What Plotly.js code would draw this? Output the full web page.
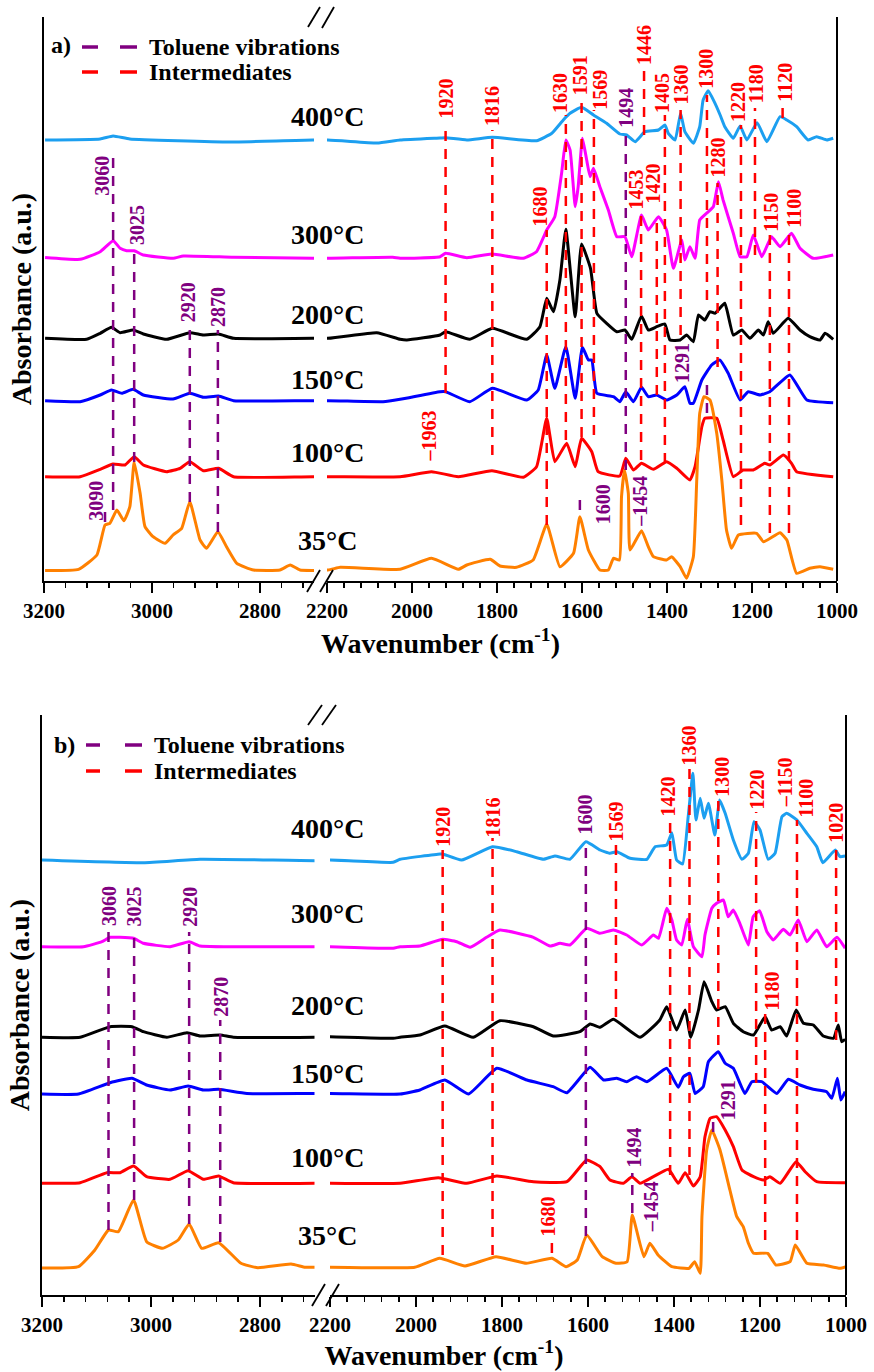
<!DOCTYPE html>
<html>
<head>
<meta charset="utf-8">
<script src="https://cdn.plot.ly/plotly-3.0.1.min.js"></script>
<style>html,body{margin:0;padding:0;background:#fff;}#chart{width:874px;height:1372px;}</style>
</head>
<body>
<div id="chart"></div>
<script>
// ---------------- DATA ----------------
const temps = ['400°C', '300°C', '200°C', '150°C', '100°C', '35°C'];
const seriesColors = ['#1c9ff0', '#ff00ff', '#000000', '#0000ff', '#ff0000', '#ff8000'];

// Panel a) spectra (wavenumber, absorbance above baseline, a.u.)
const a400Wn = [3198,3096,3072,3041,2856,2702,2198,2082,2028,1934,1921,1871,1811,1707,1671,1644,1628,1601,1573,1542,1511,1495,1475,1452,1420,1405,1397,1381,1368,1358,1338,1323,1315,1303,1287,1275,1264,1244,1228,1212,1188,1165,1134,1118,1095,1068,1048,1024,1009];
const a400Abs = [0,0.01,0.04,0.01,-0.02,0,0,-0.03,0,0.02,0.023,0,0.027,-0.007,0.067,0.20,0.267,0.327,0.25,0.167,0.06,0.05,-0.017,0.083,0.10,0.15,0.067,0,0.267,0.083,-0.033,0.133,0.40,0.493,0.367,0.25,0.133,0.017,0.14,0,0.173,-0.017,0.233,0.20,0.133,0,0.033,0,0.017];
const a300Wn = [3198,3133,3096,3072,3059,3047,3033,3016,2961,2942,2849,2702,2198,2045,2028,1934,1921,1871,1812,1738,1707,1683,1664,1648,1638,1628,1616,1609,1599,1589,1581,1573,1558,1538,1518,1499,1483,1460,1444,1420,1401,1385,1365,1358,1346,1334,1323,1307,1291,1279,1268,1244,1228,1212,1197,1177,1154,1134,1107,1087,1056,1009];
const a300Abs = [0,-0.018,0.058,0.168,0.092,0.068,0.068,0.025,-0.008,0.015,0.002,-0.008,-0.008,0.002,-0.008,0.008,0.042,-0.002,0.035,-0.008,0.058,0.275,0.408,0.842,1.175,1.075,0.508,0.708,1.192,0.975,0.808,0.892,0.708,0.475,0.208,0.208,0.008,0.425,0.275,0.408,0.275,-0.108,0.175,-0.025,0.108,-0.008,0.375,0.442,0.508,0.758,0.575,0.242,0.008,0.008,0.225,0.008,0.208,0.108,0.242,0.092,-0.008,0.025];
const a200Wn = [3198,3121,3096,3075,3059,3035,3016,2973,2930,2905,2877,2849,2702,2198,2083,2028,2012,1934,1921,1864,1811,1730,1699,1683,1667,1652,1638,1616,1601,1580,1565,1542,1518,1499,1483,1460,1444,1424,1405,1393,1369,1354,1338,1326,1311,1299,1287,1264,1244,1224,1205,1185,1173,1162,1150,1115,1087,1064,1040,1028,1009];
const a200Abs = [-0.003,-0.013,0.047,0.107,0.053,0.08,0.04,-0.013,0.053,0.03,0.04,-0.003,-0.003,-0.003,0.053,-0.013,-0.02,0.03,0.063,-0.013,0.097,-0.013,0.113,0.397,0.263,0.58,1.087,0.213,0.94,0.697,0.247,0.147,0.063,0.08,-0.013,0.22,0.08,0.113,0.14,-0.02,-0.02,0.03,-0.037,0.23,0.18,0.263,0.247,0.347,0.03,0.08,-0.003,0.08,0.03,0.163,0.047,0.197,0.08,0.013,-0.02,0.047,-0.013];
const a150Wn = [3198,3133,3096,3075,3056,3035,3016,2961,2930,2905,2877,2849,2701,2198,2068,2028,1934,1921,1864,1811,1730,1703,1683,1664,1638,1616,1599,1585,1577,1565,1526,1511,1497,1479,1460,1444,1424,1401,1377,1358,1346,1338,1318,1295,1276,1256,1228,1209,1181,1158,1111,1071,1009];
const a150Abs = [-0.002,-0.012,0.055,0.105,0.072,0.112,0.055,0.015,0.072,0.032,0.045,-0.002,-0.002,-0.002,-0.012,0.012,0.088,0.088,-0.012,0.122,0.005,0.105,0.455,0.122,0.538,0.022,0.532,0.405,0.405,0.072,0.038,-0.012,0.088,-0.012,0.132,0.038,0.055,0.005,0.055,0.138,-0.028,-0.028,0.205,0.355,0.405,0.272,0.005,0.088,0.055,0.088,0.255,0.005,-0.022];
const a100Wn = [3198,3133,3096,3072,3050,3033,3016,2973,2948,2930,2905,2877,2849,2701,2198,2028,1954,1891,1812,1738,1707,1683,1664,1636,1616,1601,1577,1562,1511,1497,1479,1460,1432,1401,1377,1346,1334,1318,1311,1283,1268,1244,1221,1197,1170,1158,1126,1107,1095,1009];
const a100Abs = [0,0,0.074,0.127,0.117,0.20,0.117,0.05,0.084,0.15,0.06,0.084,0,0,0,0,0.05,0,0.06,-0.006,0.10,0.584,0.15,0.334,0.10,0.384,0.25,0.05,0.007,0.184,0.067,0.134,0.074,0.15,0.084,-0.033,0.10,0.50,0.584,0.584,0.367,0,0.067,0.067,0.134,0.117,0.217,0.134,0.05,0];
const a35Wn = [3198,3136,3102,3087,3078,3065,3052,3041,3033,3022,3013,2998,2976,2961,2945,2930,2911,2899,2878,2862,2843,2812,2763,2744,2726,2701,2198,2169,2028,1954,1891,1871,1816,1793,1754,1715,1683,1652,1620,1605,1585,1558,1538,1526,1512,1507,1500,1491,1487,1460,1444,1432,1401,1389,1369,1354,1338,1330,1323,1313,1299,1283,1271,1260,1248,1232,1189,1173,1134,1118,1095,1064,1040,1009];
const a35Abs = [0,0.012,0.155,0.455,0.472,0.605,0.498,0.638,1.085,0.772,0.438,0.338,0.272,0.355,0.422,0.688,0.305,0.222,0.388,0.238,0.072,0.005,0.005,0.055,0.005,0,0.005,0.032,0.012,0.122,0.012,0.055,0.112,0.045,0.032,0.105,0.462,0.038,0.172,0.538,0.205,0.005,0.005,0.122,0.105,0.738,1.005,0.772,0.205,0.398,0.238,0.138,0.105,0.138,0.038,-0.078,0.138,0.905,1.572,1.738,1.705,1.372,0.905,0.405,0.222,0.355,0.372,0.288,0.378,0.305,-0.028,0.022,0.038,0.012];
const aOffsets = [4.41, 3.235, 2.43, 1.805, 1.043, 0.105];
const aTempLabelY = [4.64, 3.46, 2.66, 2.01, 1.28, 0.41];

// Panel b) spectra
const b400Wn = [3200,3014,2910,2697,2200,2053,2037,1944,1938,1894,1822,1766,1704,1677,1642,1605,1572,1549,1533,1502,1463,1444,1417,1405,1394,1380,1367,1356,1349,1339,1330,1320,1305,1294,1281,1262,1242,1227,1214,1200,1181,1165,1149,1138,1114,1091,1068,1054,1025,1014,1002];
const b400Abs = [0,-0.027,0.007,-0.007,0,-0.023,0.007,0.06,0.06,0,0.133,0.083,0.007,0.04,0.007,0.183,0.10,0.067,0.083,0.017,0.007,0.133,0.15,0.273,0,-0.04,0.433,0.867,0.40,0.617,0.417,0.567,0.25,0.60,0.467,0.20,0.007,0.067,0.383,0.30,0.007,0.067,0.433,0.467,0.40,0.267,0.133,-0.027,0.10,0.033,0.04];
const b300Wn = [3200,3124,3090,3075,3057,3032,3014,2965,2930,2910,2697,2200,2053,2037,1991,1938,1905,1874,1836,1805,1727,1688,1665,1642,1603,1572,1541,1510,1475,1448,1436,1417,1405,1394,1382,1369,1355,1335,1328,1312,1301,1285,1274,1262,1247,1227,1216,1201,1184,1169,1146,1130,1111,1091,1068,1045,1021,1002];
const b300Abs = [0,0,0.05,0.094,0.094,0.084,0.034,0,0.05,0.007,0,0,-0.016,0,0.007,0.074,0.05,-0.006,0.094,0.167,0.094,0.007,0.034,0.017,0.184,0.134,0.167,0.117,0.017,0.117,0.084,0.384,0.267,0.067,0.017,0.274,0,-0.10,0.117,0.384,0.434,0.467,0.30,0.367,0.234,0.017,0.30,0.36,0.15,0.067,0.174,0.117,0.267,0.05,0.167,0,0.094,-0.016];
const b200Wn = [3200,3130,3075,3035,3014,2971,2934,2910,2873,2849,2697,2200,2053,2037,1991,1933,1867,1805,1727,1681,1619,1595,1572,1541,1479,1433,1417,1394,1374,1361,1343,1330,1312,1301,1281,1262,1239,1215,1188,1173,1153,1138,1116,1099,1076,1053,1029,1018,1010,1002];
const b200Abs = [-0.006,-0.006,0.10,0.10,0.05,-0.006,0.04,0.007,0.017,-0.006,-0.006,0,-0.016,-0.006,0.017,0.107,-0.006,0.16,0.10,0.007,0.05,0.127,0.094,0.174,-0.006,0.167,0.30,0.067,0.267,-0.006,0.267,0.55,0.35,0.267,0.30,0.134,0.05,0.017,0.20,0.067,0.10,0.007,0.267,0.134,0.117,0.007,-0.016,0.117,-0.05,-0.026];
const b150Wn = [3200,3133,3075,3035,3008,2965,2932,2904,2876,2824,2697,2200,2037,1991,1933,1878,1812,1742,1681,1649,1595,1564,1533,1510,1487,1463,1417,1390,1378,1363,1351,1332,1320,1297,1281,1262,1235,1219,1196,1161,1134,1107,1076,1045,1033,1020,1012,1002];
const b150Abs = [-0.005,-0.005,0.108,0.152,0.085,0.035,0.075,0.035,0.042,0,0,0,-0.005,0.035,0.135,-0.005,0.252,0.135,0.068,0.008,0.262,0.135,0.152,0.118,0.168,0.118,0.252,0.062,0.168,0.202,0,0.068,0.318,0.418,0.302,0.252,0,0.118,0.118,0,0.142,0.085,0.042,0.018,-0.048,0.152,-0.065,0.018];
const b100Wn = [3200,3130,3081,3057,3032,3008,2965,2932,2904,2876,2849,2697,2200,2037,1948,1882,1812,1727,1649,1603,1572,1549,1518,1498,1479,1448,1413,1390,1374,1355,1339,1328,1316,1301,1281,1262,1242,1215,1192,1177,1153,1116,1095,1068,1002];
const b100Abs = [0,0.006,0.106,0.106,0.173,0.066,0.04,0.126,0.04,0.073,0.006,0,0,0,0.056,0,0.073,0.016,0.016,0.233,0.166,0.033,0,0.066,0,0.066,0.14,0,0.106,-0.027,0.066,0.466,0.65,0.666,0.533,0.366,0.133,0.066,0.033,0.066,0,0.216,0.116,0.016,0.006];
const b35Wn = [3200,3133,3103,3078,3060,3032,3008,2979,2950,2930,2907,2876,2835,2804,2743,2717,2696,2200,2003,1945,1886,1814,1743,1684,1651,1625,1603,1567,1535,1509,1497,1470,1456,1437,1405,1365,1352,1339,1335,1324,1312,1293,1270,1254,1239,1227,1215,1182,1163,1130,1118,1091,1052,1014,1000];
const b35Abs = [0,0.013,0.18,0.38,0.363,0.68,0.263,0.197,0.28,0.44,0.197,0.253,0.047,0.003,0.04,0.007,0.007,0.007,0.007,0.097,0.02,0.113,0.047,0.097,0.013,0.08,0.33,0.113,0.047,0.063,0.53,0.113,0.247,0.13,0.013,-0.003,0.063,-0.053,0.513,1.18,1.38,1.18,0.78,0.513,0.413,0.247,0.147,0.147,0.03,0.063,0.23,0.047,0.03,-0.003,0.013];
const bOffsets = [4.35, 3.483, 2.583, 2.015, 1.117, 0.27];
const bTempLabelY = [4.67, 3.82, 2.90, 2.22, 1.38, 0.60];

// Reference (dashed) lines: position (cm-1), top and bottom (a.u.)
const aTolWn = [3072, 3033, 2930, 2878, 3087, 1497, 1605, 1306];
const aTolTop = [4.31, 3.31, 2.51, 2.51, 0.71, 4.46, 0.84, 2.01];
const aTolBot = [0.71, 1.19, 0.79, 0.49, 0.59, 1.11, 0.71, 1.68];
const aIntWn = [1921, 1811, 1683, 1638, 1601, 1572, 1454, 1461, 1424, 1405, 1368, 1306, 1281, 1226, 1193, 1128, 1158, 1113];
const aIntTop = [4.56, 4.51, 3.51, 4.66, 4.83, 4.71, 5.11, 3.66, 3.66, 4.66, 4.71, 4.86, 3.98, 4.56, 4.73, 4.73, 3.46, 3.49];
const aIntBot = [1.88, 1.26, 0.56, 1.41, 1.44, 1.46, 4.46, 1.21, 1.86, 1.18, 2.46, 2.81, 2.14, 0.56, 3.26, 4.63, 0.48, 0.48];
const bTolWn = [3078, 3031, 2930, 2873, 1605, 1497, 1309];
const bTolTop = [3.63, 3.63, 3.63, 2.75, 4.55, 1.22, 1.75];
const bTolBot = [0.65, 0.95, 0.71, 0.53, 0.59, 0.82, 1.63];
const bIntWn = [1938, 1822, 1535, 1409, 1364, 1297, 1209, 1188, 1114, 1023, 1684];
const bIntTop = [4.45, 4.57, 4.50, 4.75, 5.28, 4.95, 4.83, 2.82, 4.75, 4.50, 0.54];
const bIntBot = [0.40, 0.40, 2.78, 1.20, 1.20, 2.50, 2.12, 0.55, 0.55, 2.55, 0.42];

// Peak labels
const aTolLab = ['3060', '3025', '2920', '2870', '3090', '1494', '1600', '–1454', '1291'];
const aTolLabWn = [3093, 3028, 2933, 2878, 3104, 1497, 1550, 1464, 1365];
const aTolLabY = [4.05, 3.56, 2.79, 2.74, 0.80, 4.73, 0.77, 0.80, 2.18];
const aIntLab = ['1920', '1816', '1680', '1630', '1591', '1569', '1446', '1453', '1420', '1405', '1360', '1300', '1280', '1220', '1180', '1120', '1150', '1100', '–1963'];
const aIntLabWn = [1921, 1812, 1700, 1652, 1604, 1558, 1454, 1474, 1434, 1412, 1368, 1309, 1281, 1233, 1190, 1123, 1156, 1102, 1959];
const aIntLabY = [4.82, 4.75, 3.74, 4.88, 5.06, 4.91, 5.36, 3.91, 3.97, 4.88, 4.96, 5.12, 4.23, 4.79, 4.97, 4.99, 3.69, 3.73, 1.45];
const bTolLab = ['3060', '3025', '2920', '2870', '1600', '1494', '–1454', '1291'];
const bTolLabWn = [3077, 3032, 2929, 2872, 1608, 1494, 1453, 1274];
const bTolLabY = [3.89, 3.88, 3.88, 2.98, 4.80, 1.47, 0.88, 1.95];
const bIntLab = ['1920', '1816', '1569', '1420', '1360', '1300', '1220', '–1150', '1100', '1020', '1180', '1680'];
const bIntLabWn = [1938, 1822, 1536, 1415, 1364, 1289, 1208, 1141, 1094, 1024, 1171, 1694];
const bIntLabY = [4.68, 4.77, 4.73, 4.98, 5.50, 5.18, 5.05, 5.13, 4.97, 4.72, 3.04, 0.78];

const legendTexts = ['Toluene vibrations', 'Intermediates'];
const xTitle = 'Wavenumber (cm<sup>-1</sup>)';
const yTitle = 'Absorbance (a.u.)';

// ---------------- LAYOUT HELPERS ----------------
const W = 874, H = 1372;
const FAM = 'Liberation Serif, Times New Roman, serif';
const PURPLE = '#800080', RED = '#ff0000';
const fx = p => p / W;
const fy = p => 1 - p / H;
const bold = (size, color) => ({family: FAM, size: size, color: color || '#000', weight: 'bold'});

const panels = [
  {
    name: 'a)', top: 17, bottom: 581, left: 44, gapL: 314, gapR: 327, right: 837, ymax: 5.64,
    xl: 'x', xr: 'x2', xlt: 'x3', xrt: 'x4', xt: 'x5', y: 'y',
    series: [[a400Wn, a400Abs], [a300Wn, a300Abs], [a200Wn, a200Abs], [a150Wn, a150Abs], [a100Wn, a100Abs], [a35Wn, a35Abs]],
    offsets: aOffsets, tempY: aTempLabelY, tempX: 327,
    tol: [aTolWn, aTolTop, aTolBot], inter: [aIntWn, aIntTop, aIntBot],
    tolLab: [aTolLab, aTolLabWn, aTolLabY], intLab: [aIntLab, aIntLabWn, aIntLabY],
    legendX: 147, legendY: [47, 72], tagX: 61, tagY: 45, dash1: [82, 98], dash2: [120, 137],
    brkTop: [[308, 27, 320, 7], [322, 28, 334, 7]], brkBot: [[307, 592, 320, 570], [320, 592, 333, 570]],
    titleStandoff: 52
  },
  {
    name: 'b)', top: 715, bottom: 1295, left: 42, gapL: 314.5, gapR: 330, right: 846, ymax: 5.80,
    xl: 'x6', xr: 'x7', xlt: 'x8', xrt: 'x9', xt: 'x10', y: 'y2',
    series: [[b400Wn, b400Abs], [b300Wn, b300Abs], [b200Wn, b200Abs], [b150Wn, b150Abs], [b100Wn, b100Abs], [b35Wn, b35Abs]],
    offsets: bOffsets, tempY: bTempLabelY, tempX: 327,
    tol: [bTolWn, bTolTop, bTolBot], inter: [bIntWn, bIntTop, bIntBot],
    tolLab: [bTolLab, bTolLabWn, bTolLabY], intLab: [bIntLab, bIntLabWn, bIntLabY],
    legendX: 152, legendY: [745, 771], tagX: 64, tagY: 745, dash1: [86, 100], dash2: [125, 142],
    brkTop: [[308, 725, 322, 705], [322, 725, 336, 705]], brkBot: [[312, 1306, 325, 1284], [326, 1306, 339, 1284]],
    titleStandoff: 50
  }
];

const traces = [];
const shapes = [];
const annotations = [];
const layout = {
  width: W, height: H, margin: {l: 0, r: 0, t: 0, b: 0},
  paper_bgcolor: '#fff', plot_bgcolor: 'rgba(0,0,0,0)', showlegend: false,
  font: {family: FAM, color: '#000'}
};

const axName = id => 'xaxis' + (id === 'x' ? '' : id.slice(1));
const yName = id => 'yaxis' + (id === 'y' ? '' : id.slice(1));

panels.forEach(p => {
  const yDom = [fy(p.bottom), fy(p.top)];
  const baseX = {
    showline: true, linecolor: '#000', linewidth: 2, mirror: false,
    showgrid: false, zeroline: false, dtick: 200, tick0: 0,
    ticks: 'outside', ticklen: 10, tickwidth: 2, tickcolor: '#000',
    minor: {dtick: 40, ticks: 'outside', ticklen: 5, tickwidth: 1.5, tickcolor: '#000'},
    tickfont: bold(21), anchor: p.y, fixedrange: true
  };
  layout[axName(p.xl)] = Object.assign({}, baseX, {domain: [fx(p.left), fx(p.gapL)], range: [3200, 2700]});
  layout[axName(p.xr)] = Object.assign({}, baseX, {domain: [fx(p.gapR), fx(p.right)], range: [2200, 1000]});
  const topX = {
    showline: true, linecolor: '#000', linewidth: 2, showgrid: false, zeroline: false,
    dtick: 200, tick0: 0, ticks: 'inside', ticklen: 10, tickwidth: 2, tickcolor: '#000',
    minor: {dtick: 40, ticks: 'inside', ticklen: 6, tickwidth: 1.5, tickcolor: '#000'},
    showticklabels: false, side: 'top', anchor: p.y, fixedrange: true
  };
  layout[axName(p.xlt)] = Object.assign({}, topX, {overlaying: p.xl, range: [3200, 2700]});
  layout[axName(p.xrt)] = Object.assign({}, topX, {overlaying: p.xr, range: [2200, 1000]});
  // full-width carrier axis for the shared x title (no line, no ticks)
  layout[axName(p.xt)] = {
    domain: [fx(p.left), fx(p.right)], anchor: p.y, range: [0, 1],
    showline: false, showgrid: false, zeroline: false, ticks: '', showticklabels: false,
    title: {text: xTitle, font: bold(28), standoff: p.titleStandoff}, fixedrange: true
  };
  traces.push({type: 'scatter', mode: 'lines', x: [], y: [], xaxis: p.xt, yaxis: p.y, hoverinfo: 'skip', showlegend: false});
  layout[yName(p.y)] = {
    domain: yDom, anchor: p.xl, range: [0, p.ymax],
    showline: true, linecolor: '#000', linewidth: 2, showgrid: false, zeroline: false,
    ticks: '', showticklabels: false, fixedrange: true,
    title: {text: yTitle, font: bold(28), standoff: 2}
  };

  // spectra
  p.series.forEach((s, i) => {
    const yv = s[1].map(v => v + p.offsets[i]);
    [p.xl, p.xr].forEach(xa => {
      traces.push({
        type: 'scatter', mode: 'lines', x: s[0], y: yv, xaxis: xa, yaxis: p.y,
        name: temps[i], line: {color: seriesColors[i], width: 3, shape: 'spline', smoothing: 0.4},
        hoverinfo: 'skip', showlegend: false
      });
    });
    annotations.push({
      xref: 'paper', yref: p.y, x: fx(p.tempX), y: p.tempY[i], text: temps[i],
      showarrow: false, xanchor: 'center', yanchor: 'middle', font: bold(28)
    });
  });

  // right frame line and axis-break marks
  shapes.push({type: 'line', xref: 'paper', yref: 'paper', x0: fx(p.right), x1: fx(p.right), y0: fy(p.bottom), y1: fy(p.top), line: {color: '#000', width: 2}});
  p.brkTop.concat(p.brkBot).forEach(b => {
    shapes.push({type: 'line', xref: 'paper', yref: 'paper', x0: fx(b[0]), y0: fy(b[1]), x1: fx(b[2]), y1: fy(b[3]), line: {color: '#000', width: 1.8}});
  });

  // dashed reference lines
  const addLines = (set, color) => {
    set[0].forEach((wn, k) => {
      shapes.push({
        type: 'line', xref: wn > 2450 ? p.xl : p.xr, yref: p.y,
        x0: wn, x1: wn, y0: set[2][k], y1: set[1][k],
        line: {color: color, width: 2.5, dash: '10px,8px'}
      });
    });
  };
  addLines(p.tol, PURPLE);
  addLines(p.inter, RED);

  // peak labels
  const addLabels = (set, color) => {
    set[0].forEach((t, k) => {
      const wn = set[1][k];
      annotations.push({
        xref: wn > 2450 ? p.xl : p.xr, yref: p.y, x: wn, y: set[2][k], text: t,
        textangle: -90, showarrow: false, xanchor: 'center', yanchor: 'middle',
        font: bold(20, color)
      });
    });
  };
  addLabels(p.tolLab, PURPLE);
  addLabels(p.intLab, RED);

  // legend
  annotations.push({xref: 'paper', yref: 'paper', x: fx(p.tagX), y: fy(p.tagY), text: p.name, showarrow: false, xanchor: 'center', yanchor: 'middle', font: bold(24)});
  [PURPLE, RED].forEach((c, k) => {
    const yy = fy(p.legendY[k]);
    [p.dash1, p.dash2].forEach(d => {
      shapes.push({type: 'line', xref: 'paper', yref: 'paper', x0: fx(d[0]), x1: fx(d[1]), y0: yy, y1: yy, line: {color: c, width: 3.5}});
    });
    annotations.push({xref: 'paper', yref: 'paper', x: fx(p.legendX), y: yy, text: legendTexts[k], showarrow: false, xanchor: 'left', yanchor: 'middle', font: bold(24)});
  });
});

layout.shapes = shapes;
layout.annotations = annotations;

Plotly.newPlot('chart', traces, layout, {staticPlot: true, displayModeBar: false});
</script>
</body>
</html>
